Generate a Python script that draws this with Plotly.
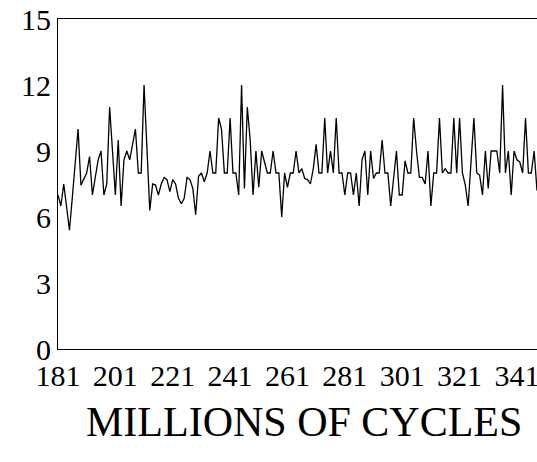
import plotly.graph_objects as go

start_cycle = 181
values = [
    7.0, 6.5, 7.5, 6.45, 5.4, 6.9, 8.5, 10.0, 7.45, 7.75,
    8.0, 8.75, 7.0, 7.8, 8.6, 9.0, 7.0, 7.5, 11.0, 9.0,
    7.0, 9.5, 6.5, 8.6, 9.0, 8.6, 9.3, 10.0, 8.0, 8.0,
    12.0, 9.15, 6.3, 7.5, 7.45, 7.0, 7.5, 7.8, 7.7, 7.15,
    7.7, 7.5, 6.85, 6.6, 6.85, 7.8, 7.7, 7.3, 6.1, 7.85,
    8.0, 7.6, 8.0, 9.0, 8.0, 8.0, 10.5, 10.0, 8.0, 8.0,
    10.5, 8.0, 8.0, 7.0, 12.0, 7.3, 11.0, 9.5, 7.0, 9.0,
    7.35, 9.0, 8.5, 8.0, 8.0, 9.0, 8.0, 8.0, 6.0, 8.0,
    7.35, 8.0, 8.0, 9.0, 8.0, 8.2, 7.75, 7.7, 7.5, 8.2,
    9.3, 8.0, 8.0, 10.5, 8.0, 9.0, 8.0, 10.5, 8.0, 8.0,
    7.0, 8.0, 8.0, 7.0, 8.0, 6.5, 8.6, 9.0, 7.0, 9.0,
    7.75, 8.0, 8.0, 9.5, 8.0, 8.0, 6.5, 7.8, 9.0, 7.0,
    7.0, 8.55, 8.0, 8.0, 10.5, 9.0, 7.8, 7.8, 7.5, 9.0,
    6.5, 8.0, 8.0, 10.5, 8.0, 8.2, 8.0, 8.0, 10.5, 8.0,
    10.5, 8.0, 7.45, 6.5, 8.5, 10.5, 8.0, 7.9, 7.0, 9.0,
    7.3, 9.0, 9.0, 9.0, 8.0, 12.0, 8.0, 9.0, 7.0, 9.0,
    8.6, 8.5, 8.0, 10.5, 8.0, 8.0, 9.0, 7.2,
]
cycles = [start_cycle + i for i in range(len(values))]

x_ticks = [181, 201, 221, 241, 261, 281, 301, 321, 341]
y_ticks = [0, 3, 6, 9, 12, 15]
x_title = "MILLIONS OF CYCLES"

font_family = "Liberation Serif, Times New Roman, serif"

fig = go.Figure()
fig.add_trace(go.Scatter(
    x=cycles, y=values, mode="lines",
    line=dict(color="black", width=1.3),
    showlegend=False, hoverinfo="skip",
))

fig.update_layout(
    width=537, height=462,
    margin=dict(l=58, r=0, t=19, b=113, autoexpand=False),
    paper_bgcolor="white", plot_bgcolor="white",
    font=dict(family=font_family, color="black", size=30),
    xaxis=dict(
        range=[cycles[0], cycles[-1]],
        tickmode="array", tickvals=x_ticks, ticktext=[str(v) for v in x_ticks],
        showgrid=False, zeroline=False, ticks="", automargin=False,
        ticklabeloverflow="allow",
        showline=True, linecolor="black", linewidth=1, mirror=True,
        tickfont=dict(size=30, family=font_family),
    ),
    yaxis=dict(
        range=[0, 15],
        tickmode="array", tickvals=y_ticks, ticktext=[str(v) for v in y_ticks],
        showgrid=False, zeroline=False, ticks="", automargin=False,
        ticklabeloverflow="allow",
        showline=True, linecolor="black", linewidth=1,
        tickfont=dict(size=30, family=font_family),
    ),
    annotations=[dict(
        text=x_title, xref="paper", yref="paper", x=0.513, y=-0.222,
        xanchor="center", yanchor="middle", showarrow=False,
        font=dict(size=42, family=font_family, color="black"),
    )],
)

fig.write_html(
    "out.html",
    config={"displayModeBar": False},
    post_script="document.body.style.margin='0';document.body.style.overflow='hidden';",
)
